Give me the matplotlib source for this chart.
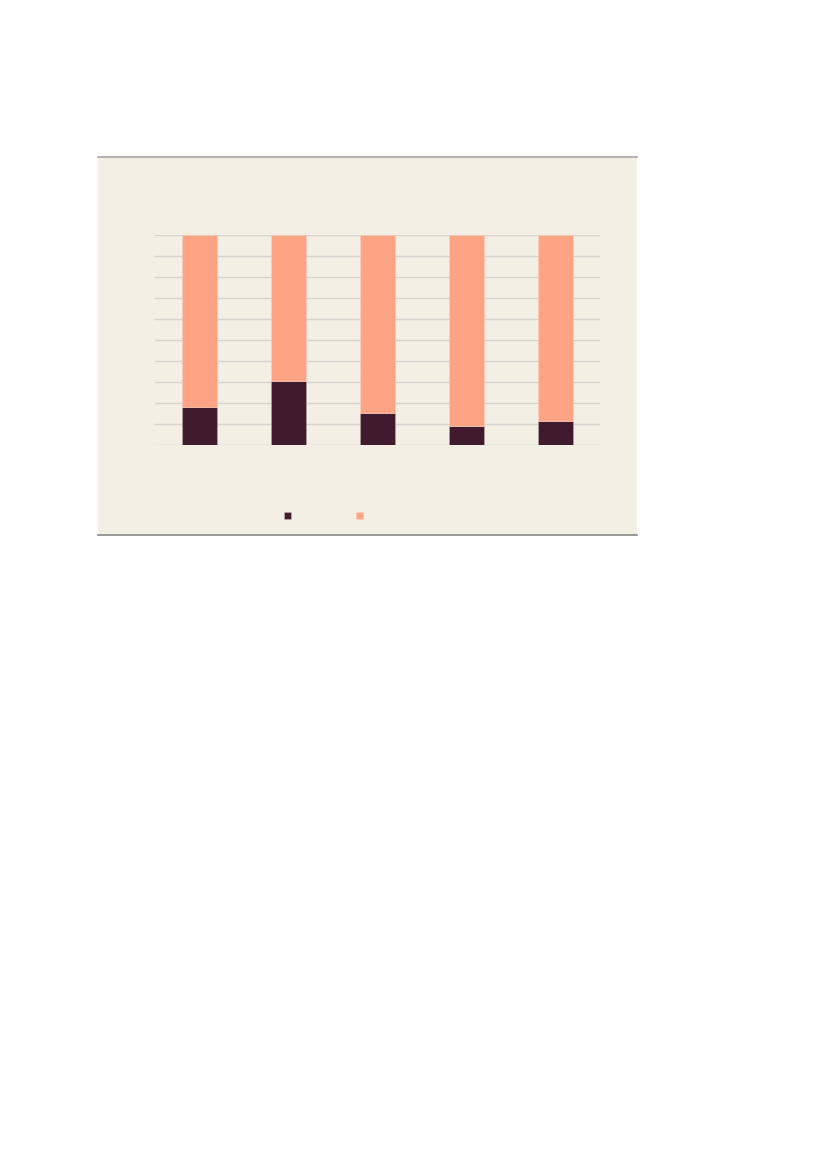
import matplotlib.pyplot as plt
from matplotlib.patches import Rectangle, Patch
from matplotlib.lines import Line2D
import numpy as np

# share of each bar (percent)
categories = ['1', '2', '3', '4', '5']
dark_share = [18.2, 30.6, 15.4, 9.2, 11.6]
light_share = [100 - v for v in dark_share]

DARK = '#3F1B2D'
LIGHT = '#FFA385'
PANEL = '#F4EFE5'

W, H = 827, 1170
fig = plt.figure(figsize=(W / 100, H / 100), dpi=100)

# beige panel behind the chart
px0, px1, py0, py1 = 98, 637, 157, 536
fig.add_artist(Rectangle((px0 / W, 1 - py1 / H), (px1 - px0) / W, (py1 - py0) / H,
                         transform=fig.transFigure, facecolor=PANEL, edgecolor='none', zorder=0))
fig.add_artist(Line2D([px0 / W, px1 / W], [1 - py0 / H] * 2, transform=fig.transFigure,
                      color='#A5A5A5', lw=1.2, zorder=1))
fig.add_artist(Line2D([px0 / W, px1 / W], [1 - 535 / H] * 2, transform=fig.transFigure,
                      color='#8A8A8A', lw=1.2, zorder=1))

ax = fig.add_axes([155 / W, 1 - 445 / H, 445 / W, 210 / H])
ax.set_facecolor('none')

x = np.arange(len(categories))
ax.bar(x, dark_share, width=0.4, color=DARK, edgecolor='#B9A9A6', linewidth=0.4, zorder=3)
ax.bar(x, light_share, bottom=dark_share, width=0.4, color=LIGHT,
       edgecolor='#FFD0BF', linewidth=0.4, zorder=3)

ax.set_xlim(-0.5, len(categories) - 0.5)
ax.set_ylim(0, 100)
ax.set_yticks(np.arange(0, 101, 10))
ax.yaxis.grid(True, color='#D6D2CE', lw=1.0, zorder=0)
ax.set_axisbelow(True)
ax.tick_params(left=False, bottom=False, labelleft=False, labelbottom=False)
for s in ax.spines.values():
    s.set_visible(False)

handles = [Patch(facecolor=DARK, edgecolor='#C9B9B6', lw=0.4),
           Patch(facecolor=LIGHT, edgecolor='#FFD0BF', lw=0.4)]
fig.legend(handles, ['', ''], ncol=2, loc='center', frameon=False,
           bbox_to_anchor=(326 / W, 1 - 516 / H), fontsize=10,
           handlelength=0.5, handleheight=0.4, handletextpad=0.4, columnspacing=4.3)

fig.savefig('out.png', dpi=100, facecolor='white')
